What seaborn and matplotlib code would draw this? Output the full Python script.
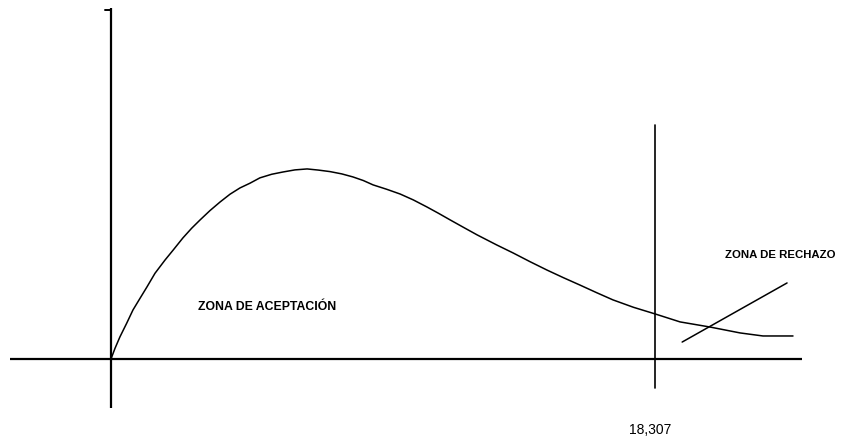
import numpy as np
import pandas as pd
import matplotlib
matplotlib.use("Agg")
import matplotlib.pyplot as plt
import seaborn as sns

# chi-square style density (x in chi units, y in density)
curve_x = [0.0, 0.135, 0.30, 0.528, 0.74, 0.976, 1.21, 1.481, 1.82, 2.097, 2.42,
           2.715, 3.00, 3.332, 3.67, 4.005, 4.34, 4.678, 5.01, 5.408, 5.79, 6.192,
           6.60, 6.977, 7.37, 7.763, 8.14, 8.491, 8.82, 9.277, 9.73, 10.173, 10.63,
           11.016, 11.41, 11.857, 12.32, 12.98, 13.53, 14.10, 14.67, 15.22, 15.78,
           16.34, 16.89, 17.58, 18.31, 19.15, 20.16, 21.17, 21.94, 22.95]
curve_y = [0.0, 0.0056, 0.0116, 0.0188, 0.0258, 0.0319, 0.0379, 0.0451, 0.0521,
           0.0574, 0.0637, 0.0688, 0.0732, 0.0781, 0.0826, 0.0867, 0.0900, 0.0925,
           0.0953, 0.0972, 0.0984, 0.0995, 0.1000, 0.0994, 0.0986, 0.0974, 0.0958,
           0.0939, 0.0916, 0.0893, 0.0868, 0.0837, 0.0800, 0.0767, 0.0732, 0.0693,
           0.0653, 0.0600, 0.0558, 0.0512, 0.0468, 0.0428, 0.0389, 0.0349, 0.0311,
           0.0272, 0.0237, 0.0195, 0.0168, 0.0137, 0.0121, 0.0121]

critical = 18.307
critical_label = "18,307"

# pointer line to the rejection zone
pointer_x = [19.22, 22.75]
pointer_y = [0.0089, 0.0400]

label_accept = "ZONA DE ACEPTACIÓN"
label_reject = "ZONA DE RECHAZO"

curve = pd.DataFrame({"x": curve_x, "y": curve_y})
pointer = pd.DataFrame({"x": pointer_x, "y": pointer_y})

sns.set_style("white")
plt.rcParams["font.family"] = ["Liberation Sans", "DejaVu Sans"]

fig = plt.figure(figsize=(8.45, 4.46), dpi=100)
ax = fig.add_axes([0, 0, 1, 1])
ax.set_xlim(-3.735, 24.70)
ax.set_ylim(-0.0458, 0.1889)
ax.axis("off")

# axes drawn by hand
ax.plot([-3.40, 23.25], [0, 0], color="black", lw=1.6, solid_capstyle="butt")
ax.plot([0, 0], [-0.0258, 0.1847], color="black", lw=1.6, solid_capstyle="butt")
ax.plot([-0.20, 0], [0.1836, 0.1836], color="black", lw=1.4)
ax.plot([critical, critical], [-0.0153, 0.1232], color="black", lw=1.2)

sns.lineplot(data=curve, x="x", y="y", ax=ax, color="black", lw=1.1, sort=False)
sns.lineplot(data=pointer, x="x", y="y", ax=ax, color="black", lw=1.1, sort=False)

ax.text(2.94, 0.0274, label_accept, fontsize=8.8, fontweight="bold",
        ha="left", va="center", color="black")
ax.text(20.65, 0.0547, label_reject, fontsize=8.2, fontweight="bold",
        ha="left", va="center", color="black")
ax.text(18.14, -0.0376, critical_label, fontsize=10, ha="center", va="center",
        color="black")

fig.savefig("out.png", dpi=100, facecolor="white")
